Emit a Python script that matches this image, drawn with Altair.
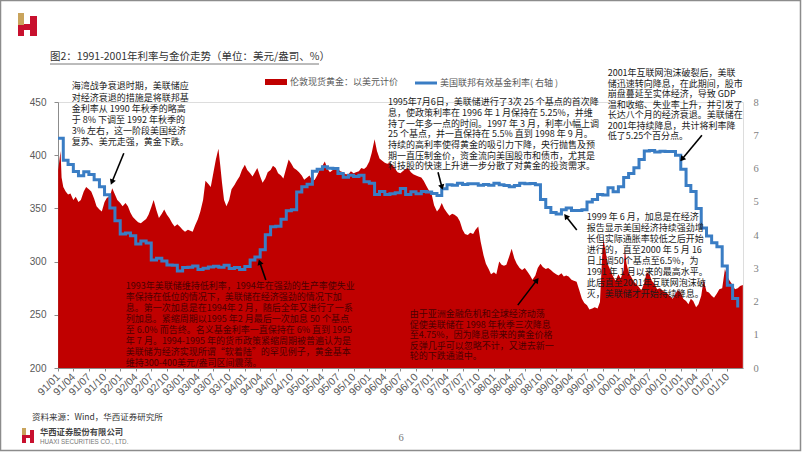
import altair as alt
import pandas as pd

# ---------------- data ----------------
gold_1991 = [("1991-01-02", 386), ("1991-01-09", 395), ("1991-01-16", 404), ("1991-01-22", 379),
             ("1991-02-01", 370), ("1991-02-15", 366), ("1991-03-01", 363), ("1991-03-15", 364),
             ("1991-04-01", 358), ("1991-04-15", 361), ("1991-05-01", 356), ("1991-05-15", 358),
             ("1991-06-01", 366), ("1991-06-15", 370), ("1991-07-01", 368), ("1991-07-15", 366),
             ("1991-08-01", 359), ("1991-08-15", 352), ("1991-09-01", 349), ("1991-09-15", 347),
             ("1991-10-01", 356), ("1991-10-15", 360), ("1991-11-01", 361), ("1991-11-15", 369),
             ("1991-12-01", 363), ("1991-12-15", 358)]
gold_1992 = [("1992-01-01", 355), ("1992-01-15", 352), ("1992-02-01", 355), ("1992-02-15", 352),
             ("1992-03-01", 346), ("1992-03-15", 342), ("1992-04-01", 339), ("1992-04-15", 337),
             ("1992-05-01", 336), ("1992-05-15", 338), ("1992-06-01", 340), ("1992-06-15", 344),
             ("1992-07-01", 351), ("1992-07-15", 358), ("1992-08-01", 348), ("1992-08-15", 341),
             ("1992-09-01", 345), ("1992-09-15", 349), ("1992-10-01", 344), ("1992-10-15", 341),
             ("1992-11-01", 336), ("1992-11-15", 333), ("1992-12-01", 335), ("1992-12-15", 333)]
gold_1993 = [("1993-01-01", 330), ("1993-01-15", 328), ("1993-02-01", 330), ("1993-02-15", 329),
             ("1993-03-01", 328), ("1993-03-15", 334), ("1993-04-01", 340), ("1993-04-15", 347),
             ("1993-05-01", 358), ("1993-05-15", 376), ("1993-06-01", 373), ("1993-06-15", 370),
             ("1993-07-01", 384), ("1993-07-15", 396), ("1993-07-30", 406), ("1993-08-10", 390),
             ("1993-08-20", 374), ("1993-09-01", 358), ("1993-09-15", 352), ("1993-10-01", 358),
             ("1993-10-15", 368), ("1993-11-01", 372), ("1993-11-15", 376), ("1993-12-01", 380),
             ("1993-12-15", 386)]
gold_1994 = [("1994-01-01", 391), ("1994-01-15", 386), ("1994-02-01", 383), ("1994-02-15", 380),
             ("1994-03-01", 384), ("1994-03-15", 388), ("1994-04-01", 380), ("1994-04-15", 374),
             ("1994-05-01", 378), ("1994-05-15", 384), ("1994-06-01", 386), ("1994-06-15", 390),
             ("1994-07-01", 388), ("1994-07-15", 383), ("1994-08-01", 381), ("1994-08-15", 378),
             ("1994-09-01", 388), ("1994-09-15", 396), ("1994-10-01", 392), ("1994-10-15", 388),
             ("1994-11-01", 386), ("1994-11-15", 384), ("1994-12-01", 381), ("1994-12-15", 377)]
gold_1995 = [("1995-01-01", 379), ("1995-01-15", 381), ("1995-02-01", 376), ("1995-02-15", 377),
             ("1995-03-01", 381), ("1995-03-15", 386), ("1995-04-01", 390), ("1995-04-15", 394),
             ("1995-05-01", 387), ("1995-05-15", 384), ("1995-06-01", 386), ("1995-06-15", 388),
             ("1995-07-01", 387), ("1995-07-15", 385), ("1995-08-01", 384), ("1995-08-15", 382),
             ("1995-09-01", 382), ("1995-09-15", 385), ("1995-10-01", 383), ("1995-10-15", 384),
             ("1995-11-01", 385), ("1995-11-15", 388), ("1995-12-01", 387), ("1995-12-15", 389)]
gold_1996 = [("1996-01-01", 394), ("1996-01-15", 402), ("1996-02-01", 415), ("1996-02-15", 404),
             ("1996-03-01", 397), ("1996-03-15", 395), ("1996-04-01", 393), ("1996-04-15", 392),
             ("1996-05-01", 393), ("1996-05-15", 391), ("1996-06-01", 387), ("1996-06-15", 384),
             ("1996-07-01", 383), ("1996-07-15", 385), ("1996-08-01", 387), ("1996-08-15", 388),
             ("1996-09-01", 384), ("1996-09-15", 382), ("1996-10-01", 381), ("1996-10-15", 380),
             ("1996-11-01", 379), ("1996-11-15", 376), ("1996-12-01", 371), ("1996-12-15", 367)]
gold_1997 = [("1997-01-01", 363), ("1997-01-15", 353), ("1997-02-01", 347), ("1997-02-15", 350),
             ("1997-03-01", 355), ("1997-03-15", 350), ("1997-04-01", 346), ("1997-04-15", 343),
             ("1997-05-01", 345), ("1997-05-15", 344), ("1997-06-01", 342), ("1997-06-15", 338),
             ("1997-07-01", 330), ("1997-07-15", 326), ("1997-08-01", 325), ("1997-08-15", 327),
             ("1997-09-01", 326), ("1997-09-15", 330), ("1997-10-01", 333), ("1997-10-15", 319),
             ("1997-11-01", 306), ("1997-11-15", 298), ("1997-12-01", 293), ("1997-12-15", 288)]
gold_1998 = [("1998-01-01", 290), ("1998-01-15", 288), ("1998-02-01", 300), ("1998-02-15", 297),
             ("1998-03-01", 296), ("1998-03-15", 297), ("1998-04-01", 305), ("1998-04-15", 312),
             ("1998-05-01", 303), ("1998-05-15", 298), ("1998-06-01", 294), ("1998-06-15", 292),
             ("1998-07-01", 294), ("1998-07-15", 291), ("1998-08-01", 287), ("1998-08-15", 283),
             ("1998-09-01", 287), ("1998-09-15", 294), ("1998-10-01", 298), ("1998-10-15", 295),
             ("1998-11-01", 293), ("1998-11-15", 294), ("1998-12-01", 292), ("1998-12-15", 290)]
gold_1999 = [("1999-01-01", 288), ("1999-01-15", 287), ("1999-02-01", 289), ("1999-02-15", 286),
             ("1999-03-01", 287), ("1999-03-15", 286), ("1999-04-01", 283), ("1999-04-15", 282),
             ("1999-05-01", 281), ("1999-05-15", 274), ("1999-06-01", 265), ("1999-06-15", 261),
             ("1999-07-01", 259), ("1999-07-15", 255), ("1999-08-01", 256), ("1999-08-15", 257),
             ("1999-09-01", 256), ("1999-09-15", 262), ("1999-09-27", 302), ("1999-10-05", 322),
             ("1999-10-15", 312), ("1999-11-01", 297), ("1999-11-15", 292), ("1999-12-01", 286),
             ("1999-12-15", 282)]
gold_2000 = [("2000-01-01", 288), ("2000-01-15", 284), ("2000-02-01", 292), ("2000-02-08", 312),
             ("2000-02-18", 298), ("2000-03-01", 290), ("2000-03-15", 286), ("2000-04-01", 281),
             ("2000-04-15", 279), ("2000-05-01", 276), ("2000-05-15", 273), ("2000-06-01", 280),
             ("2000-06-15", 290), ("2000-07-01", 288), ("2000-07-15", 282), ("2000-08-01", 279),
             ("2000-08-15", 274), ("2000-09-01", 275), ("2000-09-15", 273), ("2000-10-01", 271),
             ("2000-10-15", 270), ("2000-11-01", 267), ("2000-11-15", 265), ("2000-12-01", 270),
             ("2000-12-15", 273)]
gold_2001 = [("2001-01-01", 271), ("2001-01-15", 265), ("2001-02-01", 263), ("2001-02-15", 260),
             ("2001-03-01", 265), ("2001-03-15", 263), ("2001-04-01", 257), ("2001-04-15", 260),
             ("2001-05-01", 268), ("2001-05-15", 283), ("2001-06-01", 272), ("2001-06-15", 271),
             ("2001-07-01", 268), ("2001-07-15", 266), ("2001-08-01", 270), ("2001-08-15", 274),
             ("2001-09-01", 275), ("2001-09-17", 293), ("2001-09-25", 289), ("2001-10-01", 286),
             ("2001-10-15", 282), ("2001-11-01", 278), ("2001-11-15", 274), ("2001-12-01", 275),
             ("2001-12-15", 277), ("2001-12-31", 278)]

rate_1991 = [6.91, 6.25, 6.12, 5.91, 5.78, 5.90, 5.82, 5.66, 5.45, 5.21, 4.81, 4.43]
rate_1992 = [4.03, 4.06, 3.98, 3.73, 3.82, 3.76, 3.25, 3.30, 3.22, 3.10, 3.09, 2.92]
rate_1993 = [3.02, 3.03, 3.07, 2.96, 3.00, 3.04, 3.06, 3.03, 3.09, 2.99, 3.02, 2.96]
rate_1994 = [3.05, 3.25, 3.34, 3.56, 4.01, 4.25, 4.26, 4.47, 4.73, 4.76, 5.29, 5.45]
rate_1995 = [5.53, 5.92, 5.98, 6.05, 6.01, 6.00, 5.85, 5.74, 5.80, 5.76, 5.80, 5.60]
rate_1996 = [5.56, 5.22, 5.31, 5.22, 5.24, 5.27, 5.40, 5.22, 5.30, 5.24, 5.31, 5.29]
rate_1997 = [5.25, 5.19, 5.39, 5.51, 5.50, 5.56, 5.52, 5.54, 5.54, 5.50, 5.52, 5.50]
rate_1998 = [5.56, 5.51, 5.49, 5.45, 5.49, 5.56, 5.54, 5.55, 5.51, 5.07, 4.83, 4.68]
rate_1999 = [4.63, 4.76, 4.81, 4.74, 4.74, 4.76, 4.99, 5.07, 5.22, 5.20, 5.42, 5.30]
rate_2000 = [5.45, 5.73, 5.85, 6.02, 6.27, 6.53, 6.54, 6.50, 6.52, 6.51, 6.51, 6.40]
rate_2001 = [5.98, 5.49, 5.31, 4.80, 4.21, 3.97, 3.77, 3.65, 3.07, 2.49, 2.09, 1.82]

# annotations: text, anchor date, anchor price (left-axis units), line height, colour
ann_texts = [
    "海湾战争衰退时期，美联储应\n对经济衰退的措施是将联邦基\n金利率从 1990 年秋季的略高\n于 8% 下调至 1992 年秋季的\n3% 左右，这一阶段美国经济\n复苏、美元走强，黄金下跌。",
    "1995年7月6日，美联储进行了3次 25 个基点的首次降\n息，使政策利率在 1996 年 1 月保持在 5.25%，并维\n持了一年多一点的时间。1997 年 3 月，利率小幅上调\n25 个基点，并一直保持在 5.5% 直到 1998 年 9 月。\n持续的高利率使得黄金的吸引力下降，央行抛售及预\n期一直压制金价，资金流向美国股市和债市，尤其是\n科技股的快速上升进一步分散了对黄金的投资需求。",
    "2001年互联网泡沫破裂后，美联\n储迅速转向降息，在此期间，股市\n崩盘蔓延至实体经济，导致 GDP\n温和收缩、失业率上升，并引发了\n长达八个月的经济衰退。美联储在\n2001年持续降息，共计将利率降\n低了5.25个百分点。",
    "1999 年 6 月，加息是在经济\n报告显示美国经济持续强劲增\n长但实际通胀率较低之后开始\n进行的，直至2000 年 5 月 16\n日上调50个基点至6.5%，为\n1991 年 1 月以来的最高水平。\n此后直至2001年互联网泡沫破\n灭，美联储才开始持续降息。",
    "1993年美联储维持低利率，1994年在强劲的生产率使失业\n率保持在低位的情况下，美联储在经济强劲的情况下加\n息。第一次加息是在1994年 2 月，随后全年又进行了一系\n列加息。紧缩周期以1995 年2 月最后一次加息 50 个基点\n至 6.0% 而告终。名义基金利率一直保持在 6% 直到 1995\n年 7 月。1994-1995 年的货币政策紧缩周期被普遍认为是\n美联储为经济实现所谓“软着陆”的罕见例子，黄金基本\n维持300-400美元/盎司区间震荡。",
    "由于亚洲金融危机和全球经济动荡\n促使美联储在 1998 年秋季三次降息\n至4.75%，因为降息带来的黄金价格\n反弹几乎可以忽略不计，又进去新一\n轮的下跌通道中。",
]
ann_dates = ["1991-03-22", "1996-04-19", "1999-10-30", "1999-06-30", "1992-02-03", "1996-08-25"]
ann_prices = [468.5, 453.5, 480.7, 345.5, 280.7, 254.4]
ann_lineh = [11.2, 10.7, 10.5, 11.0, 11.0, 10.5]
ann_colors = ["#1a1a1a", "#1a1a1a", "#1a1a1a", "#1a1a1a", "#4a0000", "#4a0000"]

arrow_from_dates = ["1992-01-22", "1997-02-07", "2001-05-05", "1999-05-02", "1994-05-04", "1998-05-21"]
arrow_from_prices = [401.8, 384.0, 418.7, 329.6, 282.6, 259.1]
arrow_to_dates = ["1991-11-13", "1997-03-02", "2001-01-08", "1999-02-27", "1994-03-29", "1998-09-10"]
arrow_to_prices = [374.6, 369.9, 396.2, 342.7, 299.5, 282.6]
arrow_angles = [202, 165, 220, 322, 342, 37]

# ---------------- tables ----------------
gold = pd.DataFrame(gold_1991 + gold_1992 + gold_1993 + gold_1994 + gold_1995 + gold_1996
                    + gold_1997 + gold_1998 + gold_1999 + gold_2000 + gold_2001,
                    columns=["date", "price"])
gold["date"] = pd.to_datetime(gold["date"])
rate_values = (rate_1991 + rate_1992 + rate_1993 + rate_1994 + rate_1995 + rate_1996
               + rate_1997 + rate_1998 + rate_1999 + rate_2000 + rate_2001)
rate = pd.DataFrame({"date": pd.date_range("1991-01-01", periods=len(rate_values), freq="MS"),
                     "rate": rate_values})
arrows = pd.DataFrame({"d0": pd.to_datetime(arrow_from_dates), "p0": arrow_from_prices,
                       "d1": pd.to_datetime(arrow_to_dates), "p1": arrow_to_prices,
                       "ang": arrow_angles})

CJK = "Noto Sans CJK SC"
W, H = 685, 266
x_dom = [alt.DateTime(year=1991, month=1, date=1), alt.DateTime(year=2002, month=1, date=1)]
tick_vals = [alt.DateTime(year=y, month=m, date=1) for y in range(1991, 2002) for m in (1, 4, 7, 10)]
xs = alt.Scale(domain=x_dom)
ys_gold = alt.Scale(domain=[200, 450], zero=False, nice=False)
x_axis = alt.Axis(values=tick_vals, format="%y/%m", labelAngle=315, labelAlign="right",
                  labelBaseline="middle", labelOverlap=False, labelColor="#595959",
                  labelFontSize=10.5, labelFont="Liberation Sans", tickColor="#8c8c8c", tickSize=3,
                  domainColor="#8c8c8c", grid=False, title="", labelPadding=4)

area = alt.Chart(gold).mark_area(color="#C00000").encode(
    x=alt.X("date:T", scale=xs, axis=x_axis),
    y=alt.Y("price:Q", scale=ys_gold, axis=alt.Axis(
        values=[200, 250, 300, 350, 400, 450], labelColor="#595959", labelFontSize=10,
        labelFont="Liberation Sans", domainColor="#8c8c8c", tickColor="#8c8c8c",
        tickSize=4, labelPadding=8, grid=False, title="")),
    y2=alt.datum(200),
)

line = alt.Chart(rate).mark_line(color="#3A7DC4", strokeWidth=3, interpolate="step-after").encode(
    x=alt.X("date:T", scale=xs, axis=x_axis),
    y=alt.Y("rate:Q", scale=alt.Scale(domain=[0, 8], nice=False), axis=alt.Axis(
        orient="right", values=list(range(9)), labelColor="#7f7f7f", labelFont="Liberation Serif",
        labelFontSize=10.5, domain=False, ticks=False, labelPadding=10, grid=False, title="")),
)

layers = [area, line]

for t, d, p, lh, c in zip(ann_texts, ann_dates, ann_prices, ann_lineh, ann_colors):
    df = pd.DataFrame({"date": [pd.to_datetime(d)], "price": [p], "text": [t]})
    layers.append(alt.Chart(df).mark_text(
        align="left", baseline="top", lineBreak="\n", lineHeight=lh, fontSize=9,
        font=CJK, color=c).encode(
        x=alt.X("date:T", scale=xs, axis=x_axis),
        y=alt.Y("price:Q", scale=ys_gold, axis=None),
        text="text:N"))

layers.append(alt.Chart(arrows).mark_rule(color="#000000", strokeWidth=1.6).encode(
    x=alt.X("d0:T", scale=xs, axis=x_axis), x2="d1:T",
    y=alt.Y("p0:Q", scale=ys_gold, axis=None), y2="p1:Q"))
layers.append(alt.Chart(arrows).mark_point(shape="triangle-up", filled=True, color="#000000",
                                           size=40, opacity=1).encode(
    x=alt.X("d1:T", scale=xs, axis=x_axis),
    y=alt.Y("p1:Q", scale=ys_gold, axis=None),
    angle=alt.Angle("ang:Q", scale=None)))

one = pd.DataFrame({"k": [0]})


def ptext(txt, x, y, size, color, font=CJK, align="left", weight="normal"):
    return alt.Chart(one).mark_text(text=txt, fontSize=size, color=color, font=font,
                                    align=align, baseline="middle", fontWeight=weight).encode(
        x=alt.value(x), y=alt.value(y))


def prect(x0, x1, y0, y1, color):
    return alt.Chart(one).mark_rect(color=color).encode(
        x=alt.value(x0), x2=alt.value(x1), y=alt.value(y0), y2=alt.value(y1))


def prule(x0, x1, y, color, w):
    return alt.Chart(one).mark_rule(color=color, strokeWidth=w).encode(
        x=alt.value(x0), x2=alt.value(x1), y=alt.value(y))


# title, legend, footer (offsets relative to plot origin)
layers += [
    ptext("图2：1991-2001年利率与金价走势（单位：美元/盎司、%）", -8, -45, 10.5, "#333333"),
    prule(-8, 261, -38, "#555555", 0.8),
    prect(207, 229, -23, -17, "#C00000"),
    ptext("伦敦现货黄金：以美元计价", 232, -20, 9, "#595959"),
    prule(357, 379, -19, "#3A7DC4", 3),
    ptext("美国联邦有效基金利率( 右轴 )", 382, -19, 9, "#595959"),
    ptext("资料来源：Wind，华西证券研究所", -26, 315, 8.5, "#333333"),
    ptext("华西证券股份有限公司", -18, 331, 8.3, "#444444", weight="bold"),
    ptext("HUAXI SECURITIES CO., LTD.", -18, 340, 6.3, "#777777", font="Liberation Sans"),
    ptext("6", 343, 336, 10.5, "#777777", font="Liberation Serif", align="center"),
    # top logo
    prect(-40, -34, -89, -77, "#C9A45C"),
    prect(-40, -34, -77, -66, "#C8102E"),
    prect(-34, -28, -78, -72, "#C8102E"),
    prect(-28, -21, -86, -66, "#C8102E"),
    # bottom logo
    prect(-36, -32, 326, 333, "#C9A45C"),
    prect(-36, -32, 333, 341, "#C8102E"),
    prect(-32, -28, 333, 336, "#C8102E"),
    prect(-28, -24, 328, 341, "#C8102E"),
    # frame
    alt.Chart(one).mark_rect(fillOpacity=0, stroke="#8c8c8c", strokeWidth=1.5).encode(
        x=alt.value(-57.5), x2=alt.value(742.5), y=alt.value(-101.5), y2=alt.value(348.5)),
]

chart = alt.layer(*layers).resolve_scale(y="independent").properties(
    width=W, height=H,
    padding={"left": 58, "top": 102, "right": 59, "bottom": 84},
    autosize=alt.AutoSizeParams(type="none"),
    background="#ffffff",
).configure_view(strokeWidth=0).configure(font=CJK)

chart.save("out.html", embed_options={"renderer": "svg", "actions": False})
